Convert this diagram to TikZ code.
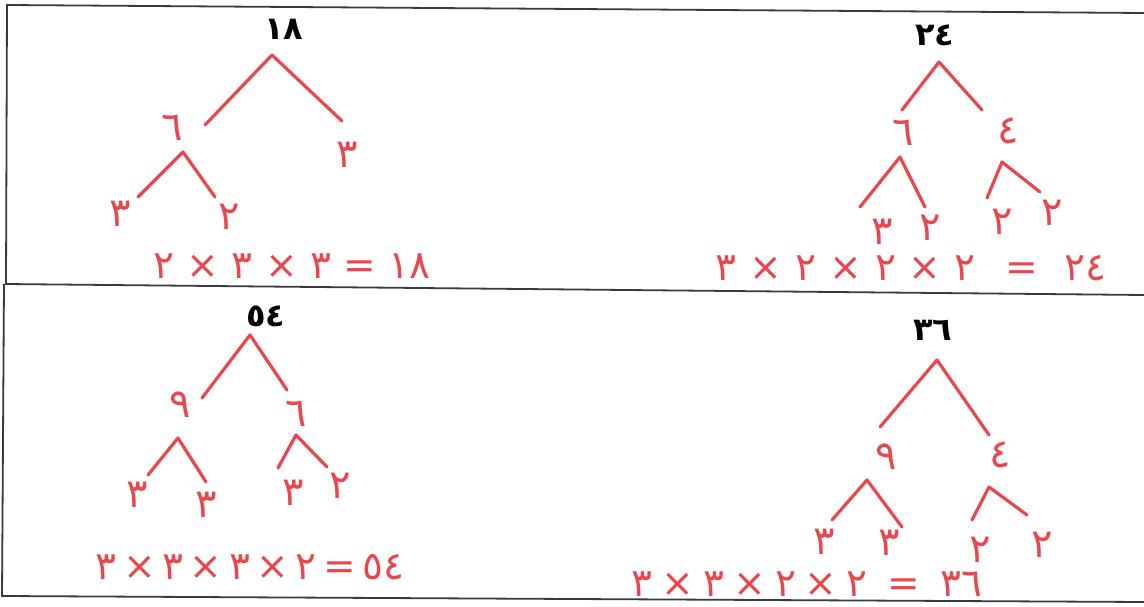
\documentclass[tikz,border=0pt]{standalone}
\usepackage{fontspec}
\newfontfamily\digitfont{DejaVu Sans}
\TeXXeTstate=1
\definecolor{penRed}{HTML}{E8474E}
\definecolor{frameGray}{HTML}{3A3A3A}

\begin{document}
\begin{tikzpicture}[
      x=1pt, y=-1pt,
      every node/.style={inner sep=1pt},
      total/.style={font=\digitfont\bfseries\fontsize{32}{34}\selectfont, text=black},
      factor/.style={font=\digitfont\fontsize{40}{42}\selectfont, text=penRed},
      eqn/.style={font=\digitfont\fontsize{39}{41}\selectfont, text=penRed},
      branch/.style={draw=penRed, line width=3.2pt, line cap=round, line join=round},
      frame/.style={draw=frameGray, line width=1.8pt}
    ]
    \useasboundingbox (0,0) rectangle (1144,607);

    % --- worksheet frame ---
    \draw[frame] (1144,13) -- (7,5) -- (6,284);
    \draw[frame] (5,284) -- (1144,295);
    \draw[frame] (4,284) -- (2,596) -- (1144,602);

    % --- tree 18 ---
    \node[total] (t18) at (284,29) {١٨};
    \coordinate (a18) at (272,55);
    \coordinate (a18l) at (205,125);
    \coordinate (a18r) at (342,121);
    \node[factor] (f18six) at (172,128) {٦};
    \node[factor] (f18three) at (347,155) {٣};
    \coordinate (a18six) at (183,152);
    \coordinate (a18sixl) at (138,197);
    \coordinate (a18sixr) at (215,197);
    \node[factor] (l18a) at (120,214) {٣};
    \node[factor] (l18b) at (229,217) {٢};
    \draw[branch] (a18l) -- (a18) -- (a18r);
    \draw[branch] (a18sixl) -- (a18six) -- (a18sixr);
    \node[eqn] (e18) at (292,266) {\beginR ١٨ = ٣ × ٣ × ٢\endR};

    % --- tree 24 ---
    \node[total] (t24) at (935,35) {٢٤};
    \coordinate (a24) at (939,62);
    \coordinate (a24l) at (902,110);
    \coordinate (a24r) at (982,110);
    \node[factor] (f24six) at (903,133) {٦};
    \node[factor] (f24four) at (1008,131) {٤};
    \coordinate (a24six) at (900,157);
    \coordinate (a24sixl) at (860,207);
    \coordinate (a24sixr) at (925,207);
    \coordinate (a24four) at (1002,162);
    \coordinate (a24fourl) at (987,198);
    \coordinate (a24fourr) at (1040,192);
    \node[factor] (l24a) at (882,232) {٣};
    \node[factor] (l24b) at (930,228) {٢};
    \node[factor] (l24c) at (1002,222) {٢};
    \node[factor] (l24d) at (1052,213) {٢};
    \draw[branch] (a24l) -- (a24) -- (a24r);
    \draw[branch] (a24sixl) -- (a24six) -- (a24sixr);
    \draw[branch] (a24fourl) -- (a24four) -- (a24fourr);
    \node[eqn] (e24) at (911,268) {\beginR ٢٤\hspace{26pt}=\hspace{30pt}٢\hspace{13pt}×\hspace{13pt}٢\hspace{13pt}×\hspace{13pt}٢\hspace{13pt}×\hspace{13pt}٣\endR};

    % --- tree 54 ---
    \node[total] (t54) at (266,316) {٥٤};
    \coordinate (a54) at (250,335);
    \coordinate (a54l) at (202,398);
    \coordinate (a54r) at (287,390);
    \node[factor] (f54nine) at (180,405) {٩};
    \node[factor] (f54six) at (296,414) {٦};
    \coordinate (a54nine) at (178,438);
    \coordinate (a54ninel) at (148,475);
    \coordinate (a54niner) at (206,482);
    \coordinate (a54six) at (296,435);
    \coordinate (a54sixl) at (278,468);
    \coordinate (a54sixr) at (327,467);
    \node[factor] (l54a) at (137,495) {٣};
    \node[factor] (l54b) at (206,505) {٣};
    \node[factor] (l54c) at (293,493) {٣};
    \node[factor] (l54d) at (340,486) {٢};
    \draw[branch] (a54l) -- (a54) -- (a54r);
    \draw[branch] (a54ninel) -- (a54nine) -- (a54niner);
    \draw[branch] (a54sixl) -- (a54six) -- (a54sixr);
    \node[eqn] (e54) at (250,567) {\beginR ٥٤\,=\,٢\,×\,٣\,×\,٣\,×\,٣\endR};

    % --- tree 36 ---
    \node[total] (t36) at (933,330) {٣٦};
    \coordinate (a36) at (937,360);
    \coordinate (a36l) at (880,427);
    \coordinate (a36r) at (989,435);
    \node[factor] (f36nine) at (886,457) {٩};
    \node[factor] (f36four) at (1000,455) {٤};
    \coordinate (a36nine) at (867,480);
    \coordinate (a36ninel) at (832,520);
    \coordinate (a36niner) at (902,527);
    \coordinate (a36four) at (989,487);
    \coordinate (a36fourl) at (972,520);
    \coordinate (a36fourr) at (1027,515);
    \node[factor] (l36a) at (824,542) {٣};
    \node[factor] (l36b) at (889,543) {٣};
    \node[factor] (l36c) at (980,550) {٢};
    \node[factor] (l36d) at (1042,545) {٢};
    \draw[branch] (a36l) -- (a36) -- (a36r);
    \draw[branch] (a36ninel) -- (a36nine) -- (a36niner);
    \draw[branch] (a36fourl) -- (a36four) -- (a36fourr);
    \node[eqn] (e36) at (807,584) {\beginR ٣٦\hspace{20pt}=\hspace{20pt}٢\hspace{9pt}×\hspace{9pt}٢\hspace{9pt}×\hspace{9pt}٣\hspace{9pt}×\hspace{9pt}٣\endR};
\end{tikzpicture}
\end{document}
